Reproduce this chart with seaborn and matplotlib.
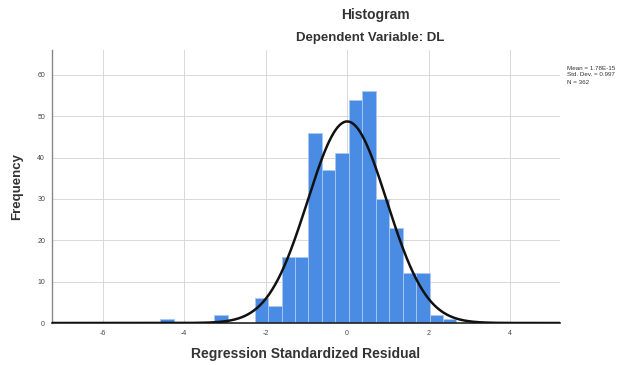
import numpy as np
import matplotlib
matplotlib.use("Agg")
import matplotlib.pyplot as plt
import seaborn as sns

# ---- data ----
bin_lefts = [-4.58, -4.25, -3.92, -3.59, -3.26, -2.93, -2.60, -2.27, -1.94, -1.61, -1.28,
             -0.95, -0.62, -0.29, 0.04, 0.37, 0.70, 1.03, 1.36, 1.69, 2.02, 2.35]
counts = [1, 0, 0, 0, 2, 0, 0, 6, 4, 16, 16, 46, 37, 41, 54, 56, 30, 23, 12, 12, 2, 1]
bin_width = 0.33
x_ticks = [-6, -4, -2, 0, 2, 4]
y_ticks = [0, 10, 20, 30, 40, 50, 60]
curve_mean = 0.0
curve_sd = 0.97
legend_lines = ["Mean = 1.78E-15", "Std. Dev. = 0.997", "N = 362"]

sns.set_theme(style="white")
plt.rcParams['font.family'] = ['Liberation Sans', 'DejaVu Sans']

fig = plt.figure(figsize=(6.4, 3.65), dpi=100)
ax = fig.add_axes([52/640, 1-323/365, (560-52)/640, (323-50)/365])

edges = list(bin_lefts) + [bin_lefts[-1] + bin_width]
centers = [b + bin_width/2 for b in bin_lefts]
sns.histplot(x=centers, weights=counts, bins=edges, ax=ax, color="#4a8be3",
             alpha=1, edgecolor="#a9c9f2", linewidth=0.6, zorder=2)

xs = np.linspace(-7.25, 5.25, 500)
n_total = sum(counts)
ys = n_total * bin_width * np.exp(-0.5*((xs-curve_mean)/curve_sd)**2) / (curve_sd*np.sqrt(2*np.pi))
sns.lineplot(x=xs, y=ys, ax=ax, color="#111111", linewidth=1.8, zorder=3)

ax.set_xlim(-7.24, 5.22)
ax.set_ylim(0, 66)
ax.set_xticks(x_ticks)
ax.set_yticks(y_ticks)
ax.set_xticklabels([str(t) for t in x_ticks], fontsize=5, color="#444444")
ax.set_yticklabels([str(t) for t in y_ticks], fontsize=5, color="#444444")
ax.grid(True, color="#d8d8d8", linewidth=0.7, zorder=0)
ax.set_axisbelow(True)
for s in ["top", "right"]:
    ax.spines[s].set_visible(False)
ax.spines["left"].set_color("#888888")
ax.spines["left"].set_linewidth(1.0)
ax.spines["bottom"].set_color("#222222")
ax.spines["bottom"].set_linewidth(1.2)
ax.tick_params(axis="both", length=2, width=0.6, color="#888888", pad=4, direction="inout")
ax.set_xlabel("Regression Standardized Residual", fontsize=10, fontweight="bold",
              color="#333333", labelpad=7)
ax.set_ylabel("Frequency", fontsize=9.5, fontweight="bold", color="#333333", labelpad=10)

fig.text(375/640, 1-15/365, "Histogram", ha="center", va="center", fontsize=10,
         fontweight="bold", color="#333333")
fig.text(370/640, 1-38/365, "Dependent Variable: DL", ha="center", va="center",
         fontsize=9.5, fontweight="bold", color="#333333")
for i, t in enumerate(legend_lines):
    fig.text(567/640, 1-(68+7*i)/365, t, ha="left", va="center", fontsize=4.5,
             color="#333333")

fig.savefig("out.png", dpi=100)
